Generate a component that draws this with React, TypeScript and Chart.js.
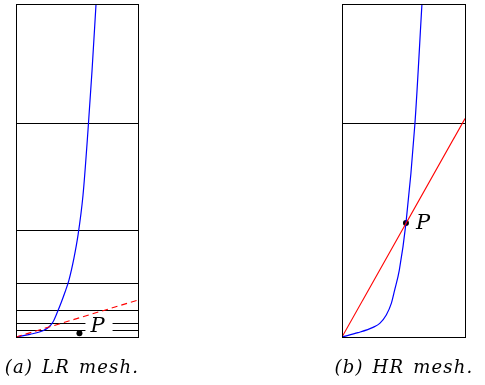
import React, { useEffect, useRef } from 'react';
import { Chart, registerables } from 'chart.js';

Chart.register(...registerables);

// Mesh line positions (normalised height, 0 = bottom, 1 = top)
const meshLR = [0.02, 0.04, 0.08, 0.16, 0.32, 0.64];
const meshHR = [0.64];

// Blue solution curve, LR mesh
const solLRx = [0, 0.115, 0.221, 0.27, 0.303, 0.336, 0.369, 0.402, 0.434, 0.475, 0.508, 0.549, 0.59, 0.623, 0.656];
const solLRy = [0, 0.008, 0.019, 0.03, 0.045, 0.072, 0.102, 0.135, 0.171, 0.237, 0.305, 0.425, 0.62, 0.799, 1.0];

// Blue solution curve, HR mesh
const solHRx = [0, 0.13, 0.252, 0.307, 0.36, 0.401, 0.428, 0.466, 0.52, 0.593, 0.65];
const solHRy = [0, 0.013, 0.029, 0.041, 0.066, 0.101, 0.141, 0.201, 0.342, 0.641, 1.0];

// Red straight lines
const linLRx = [0, 1];
const linLRy = [0, 0.111];
const linHRx = [0, 1];
const linHRy = [0, 0.656];

// Point P
const pLRx = [0.52];
const pLRy = [0.011];
const pHRx = [0.52];
const pHRy = [0.342];

const pointLabel = 'P';
const captions = ['(a) LR mesh.', '(b) HR mesh.'];

const labelPlugin = {
  id: 'pLabel',
  afterDatasetsDraw(chart: any, _args: any, opts: any) {
    const meta = chart.getDatasetMeta(2);
    const el = meta.data[0];
    if (!el) return;
    const ctx = chart.ctx;
    ctx.save();
    ctx.font = 'italic 21px "DejaVu Serif"';
    ctx.textBaseline = 'middle';
    const tx = el.x + opts.dx;
    const ty = el.y + opts.dy;
    const w = ctx.measureText(opts.text).width;
    if (opts.box) {
      ctx.fillStyle = '#fff';
      ctx.fillRect(tx - opts.padL, ty - 9, w + opts.padL + opts.padR, 18);
    }
    ctx.fillStyle = '#000';
    ctx.fillText(opts.text, tx, ty);
    ctx.restore();
  },
};

const framePlugin = {
  id: 'frame',
  afterDraw(chart: any) {
    const { left, top, right, bottom } = chart.chartArea;
    const ctx = chart.ctx;
    ctx.save();
    ctx.strokeStyle = '#000';
    ctx.lineWidth = 1;
    ctx.strokeRect(Math.round(left) + 0.5, Math.round(top) + 0.5, Math.round(right - left), Math.round(bottom - top));
    ctx.restore();
  },
};

function zip(xs: number[], ys: number[]) {
  return xs.map((x, i) => ({ x, y: ys[i] }));
}

function Panel(props: {
  left: number;
  pad: { left: number; right: number; top: number; bottom: number };
  mesh: number[];
  solX: number[];
  solY: number[];
  linX: number[];
  linY: number[];
  dashed: boolean;
  pX: number[];
  pY: number[];
  label: { dx: number; dy: number; box: boolean; padL: number; padR: number };
}) {
  const ref = useRef<HTMLCanvasElement | null>(null);
  useEffect(() => {
    if (!ref.current) return;
    const chart = new Chart(ref.current, {
      type: 'scatter',
      data: {
        datasets: [
          {
            data: zip(props.linX, props.linY),
            showLine: true,
            borderColor: '#ff0000',
            borderWidth: 1.1,
            borderDash: props.dashed ? [6, 4] : [],
            pointRadius: 0,
          },
          {
            data: zip(props.solX, props.solY),
            showLine: true,
            borderColor: '#0000ff',
            borderWidth: 1.2,
            cubicInterpolationMode: 'monotone',
            pointRadius: 0,
          },
          {
            data: zip(props.pX, props.pY),
            pointRadius: 3,
            pointBackgroundColor: '#000',
            pointBorderColor: '#000',
            borderWidth: 0,
          },
        ],
      },
      options: {
        animation: false,
        responsive: false,
        events: [],
        layout: { padding: props.pad },
        plugins: {
          legend: { display: false },
          tooltip: { enabled: false },
          pLabel: { text: pointLabel, ...props.label },
        } as any,
        scales: {
          x: {
            type: 'linear',
            min: 0,
            max: 1,
            afterBuildTicks: (s: any) => {
              s.ticks = [{ value: 0 }, { value: 1 }];
            },
            ticks: { display: false },
            grid: { color: '#000', lineWidth: 1, drawTicks: false },
            border: { display: false },
          },
          y: {
            type: 'linear',
            min: 0,
            max: 1,
            afterBuildTicks: (s: any) => {
              s.ticks = [0, ...props.mesh, 1].map((v) => ({ value: v }));
            },
            ticks: { display: false },
            grid: { color: '#000', lineWidth: 1, drawTicks: false },
            border: { display: false },
          },
        },
      },
      plugins: [labelPlugin, framePlugin],
    } as any);
    return () => chart.destroy();
  }, []);
  return (
    <canvas
      ref={ref}
      width={150}
      height={345}
      style={{ position: 'absolute', left: props.left, top: 0, width: 150, height: 345 }}
    />
  );
}

const captionStyle: React.CSSProperties = {
  position: 'absolute',
  top: 356,
  width: 220,
  textAlign: 'center',
  fontFamily: '"DejaVu Serif", serif',
  fontStyle: 'italic',
  fontSize: 18,
  letterSpacing: '1.2px',
  wordSpacing: '2px',
  lineHeight: '22px',
  whiteSpace: 'nowrap',
  color: '#000',
};

export default function App() {
  return (
    <div style={{ position: 'fixed', left: 0, top: 0, width: 485, height: 385, overflow: 'hidden' }}>
      <Panel
        left={0}
        pad={{ left: 16, right: 12, top: 3, bottom: 8 }}
        mesh={meshLR}
        solX={solLRx}
        solY={solLRy}
        linX={linLRx}
        linY={linLRy}
        dashed={true}
        pX={pLRx}
        pY={pLRy}
        label={{ dx: 11, dy: -7, box: true, padL: 5, padR: 8 }}
      />
      <Panel
        left={330}
        pad={{ left: 12, right: 15, top: 3, bottom: 8 }}
        mesh={meshHR}
        solX={solHRx}
        solY={solHRy}
        linX={linHRx}
        linY={linHRy}
        dashed={false}
        pX={pHRx}
        pY={pHRy}
        label={{ dx: 10, dy: 0, box: false, padL: 0, padR: 0 }}
      />
      <div style={{ ...captionStyle, left: 72 - 110 }}>{captions[0]}</div>
      <div style={{ ...captionStyle, left: 404 - 110 }}>{captions[1]}</div>
    </div>
  );
}
